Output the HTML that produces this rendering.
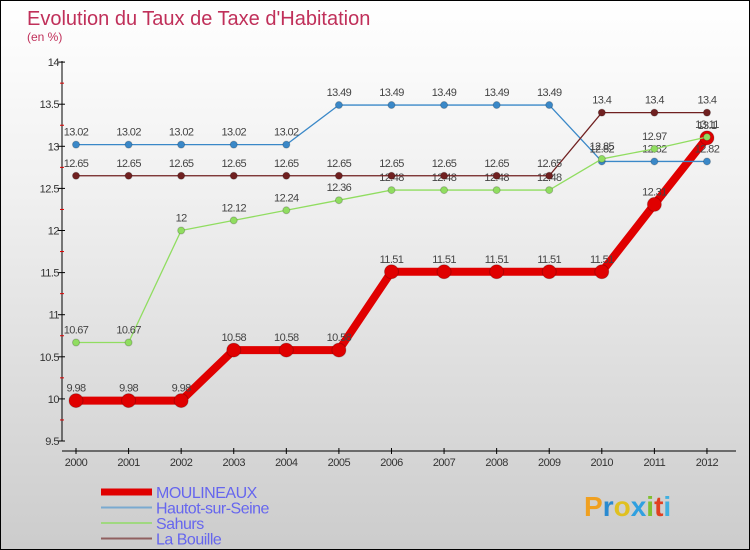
<!DOCTYPE html>
<html><head><meta charset="utf-8"><style>
body{margin:0}
#c{width:748px;height:548px;border:1px solid #000;position:relative;background:linear-gradient(#fff,#f0f0f0 35%,#ccc);font-family:"Liberation Sans",sans-serif;overflow:hidden}
</style></head><body>
<div id="c">
<svg id="s" width="748" height="548">
<text x="26" y="24" font-size="20" fill="#c0305a">Evolution du Taux de Taxe d'Habitation</text>
<text x="26" y="40" font-size="12" fill="#c0305a">(en %)</text>
<text x="583" y="515" font-size="28" font-weight="bold"><tspan fill="#f0a020">P</tspan><tspan fill="#2a8ad0">r</tspan><tspan fill="#e0c020">o</tspan><tspan fill="#30a0e0">x</tspan><tspan fill="#80c030">i</tspan><tspan fill="#e04020">t</tspan><tspan fill="#40b0e0">i</tspan></text>
</svg></div>
<script>
const years=[2000,2001,2002,2003,2004,2005,2006,2007,2008,2009,2010,2011,2012];
const moulineaux=[9.98,9.98,9.98,10.58,10.58,10.58,11.51,11.51,11.51,11.51,11.51,12.31,13.1];
const hautot=[13.02,13.02,13.02,13.02,13.02,13.49,13.49,13.49,13.49,13.49,12.82,12.82,12.82];
const sahurs=[10.67,10.67,12,12.12,12.24,12.36,12.48,12.48,12.48,12.48,12.85,12.97,13.11];
const bouille=[12.65,12.65,12.65,12.65,12.65,12.65,12.65,12.65,12.65,12.65,13.4,13.4,13.4];
const yTicks=[9.5,10,10.5,11,11.5,12,12.5,13,13.5,14];
const ns="http://www.w3.org/2000/svg",s=document.getElementById('s');
const X=i=>75+i*52.58, Y=v=>440-(v-9.5)*84.2;
function mk(t,a,p){const e=document.createElementNS(ns,t);for(const k in a)e.setAttribute(k,a[k]);(p||s).appendChild(e);return e;}
let e=mk('line',{x1:61,y1:60,x2:61,y2:440,stroke:'#000'});


e=mk('line',{x1:61,y1:450,x2:735,y2:450,stroke:'#000'});


yTicks.forEach((v,i)=>{
 mk('line',{x1:57,x2:64,y1:Y(v),y2:Y(v),stroke:'#000'});
 if(i<yTicks.length-1)mk('line',{x1:59,x2:63,y1:Y(v+0.25),y2:Y(v+0.25),stroke:'#d00'});
 e=mk('text',{x:58,y:Y(v)+4,'text-anchor':'end','font-size':11,fill:'#333','letter-spacing':'-0.5'});
 e.textContent=String(v);
 
 
});
years.forEach((y,i)=>{
 mk('line',{x1:X(i),x2:X(i),y1:447,y2:453,stroke:'#000'});
 e=mk('text',{x:X(i),y:465,'text-anchor':'middle','font-size':11,fill:'#333','letter-spacing':'-0.5'});
 e.textContent=String(y);
 
 
});
function series(d,col,w,r,name){
 const g=mk('g',{});
 
 
 mk('polyline',{points:d.map((v,i)=>X(i)+','+Y(v)).join(' '),fill:'none',stroke:col,'stroke-width':w,'stroke-linejoin':'round'},g);
 d.forEach((v,i)=>{
  const c=mk('circle',{cx:X(i),cy:Y(v),r:r,fill:col,stroke:'rgba(0,0,0,0.2)'},g);
  
  
  const t=mk('text',{x:X(i),y:Y(v)-9,'text-anchor':'middle','font-size':11,fill:'#444','letter-spacing':'-0.6'},g);
  t.textContent=String(v);
  
  
 });
}
series(moulineaux,'#e00000',8,7,'moulineaux');
series(hautot,'#3a88c8',1.3,3.5,'hautot');
series(sahurs,'#90dd60',1.3,3.5,'sahurs');
series(bouille,'#702020',1.3,3.5,'la-bouille');
const leg=[['MOULINEAUX','#e00000',7],['Hautot-sur-Seine','#7aaad0',2],['Sahurs','#a0d880',2],['La Bouille','#906060',2]];
leg.forEach((l,i)=>{
 const y=491+i*15.5;
 const g=mk('g',{});
 
 
 mk('line',{x1:100,x2:151,y1:y,y2:y,stroke:l[1],'stroke-width':l[2]},g);
 const t=mk('text',{x:155,y:y+6,'font-size':16,fill:'#6666ee','letter-spacing':'-0.5'},g);
 t.textContent=l[0];
});
</script>
</body></html>
